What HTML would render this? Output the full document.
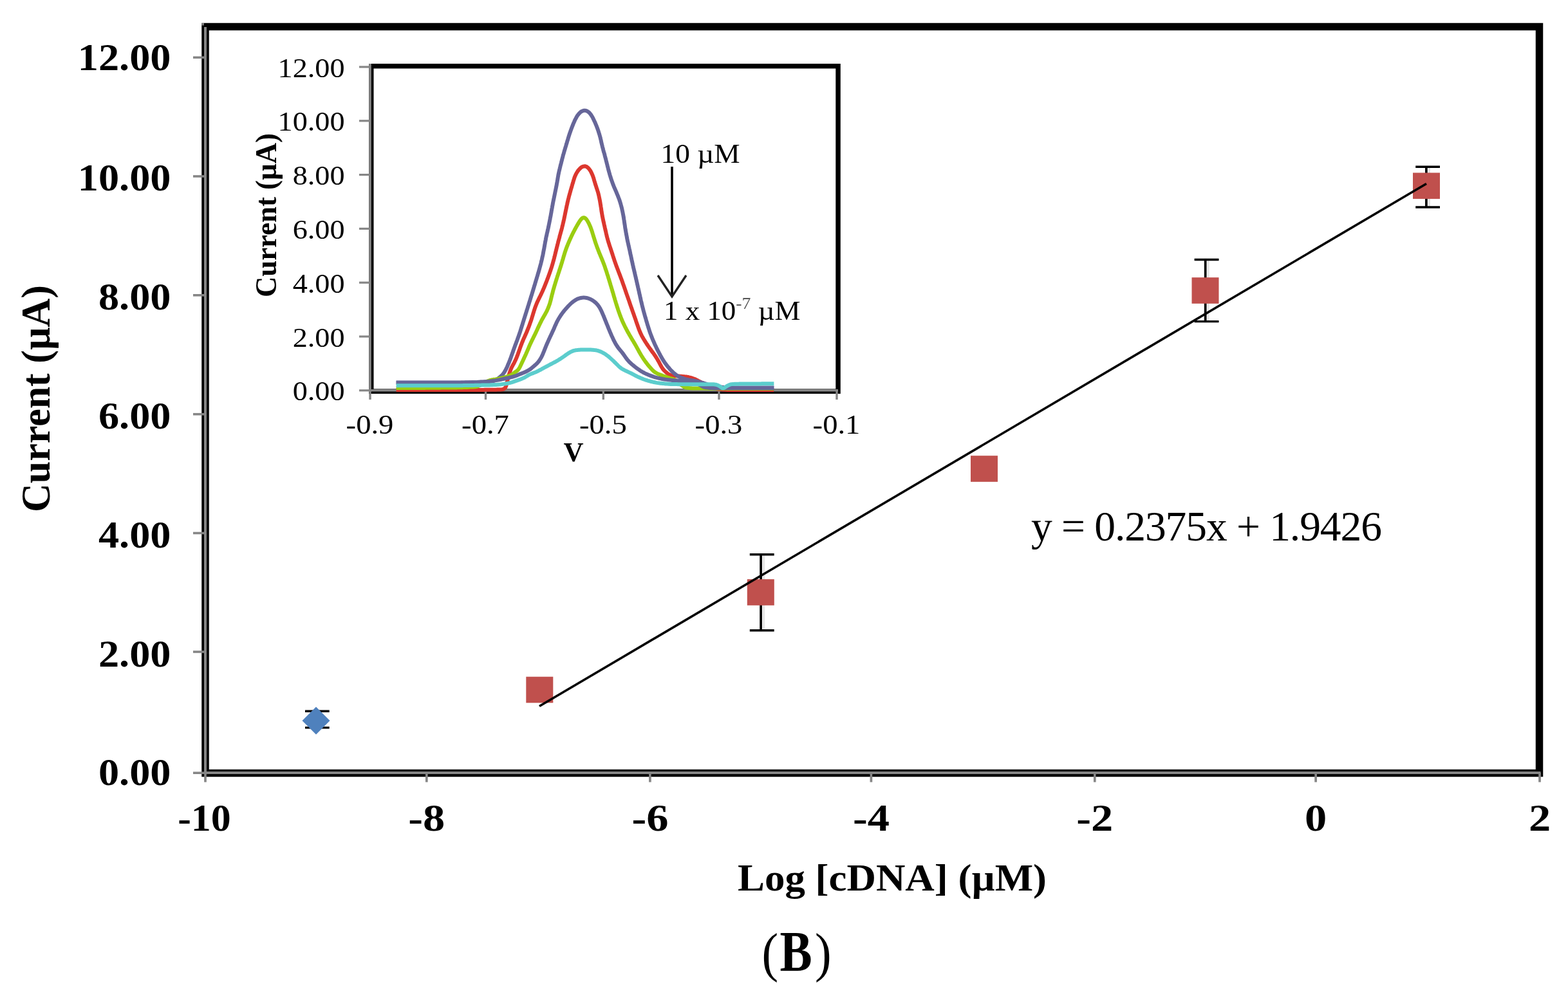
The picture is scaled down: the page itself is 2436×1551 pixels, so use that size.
<!DOCTYPE html>
<html><head><meta charset="utf-8"><title>Chart</title>
<style>html,body{margin:0;padding:0;background:#fff;overflow:hidden;width:2436px;height:1551px;}svg{display:block;}</style>
</head><body>
<svg width="2436" height="1551" viewBox="0 0 2436 1551">
<rect width="100%" height="100%" fill="#fff"/>
<rect x="319" y="41.5" width="2072.5" height="1160" fill="none" stroke="#000" stroke-width="11.5"/>
<line x1="319" y1="42" x2="319" y2="1203" stroke="#868686" stroke-width="4"/>
<rect x="313" y="36" width="4" height="3.5" fill="#7a7a7a"/>
<line x1="317" y1="1201" x2="2393.5" y2="1201" stroke="#868686" stroke-width="4"/>
<line x1="300" y1="1201.2" x2="319" y2="1201.2" stroke="#868686" stroke-width="3.6"/>
<line x1="300" y1="1013.0" x2="319" y2="1013.0" stroke="#868686" stroke-width="3.6"/>
<line x1="300" y1="828.5" x2="319" y2="828.5" stroke="#868686" stroke-width="3.6"/>
<line x1="300" y1="643.7" x2="319" y2="643.7" stroke="#868686" stroke-width="3.6"/>
<line x1="300" y1="458.8" x2="319" y2="458.8" stroke="#868686" stroke-width="3.6"/>
<line x1="300" y1="274.0" x2="319" y2="274.0" stroke="#868686" stroke-width="3.6"/>
<line x1="300" y1="89.3" x2="319" y2="89.3" stroke="#868686" stroke-width="3.6"/>
<line x1="319.0" y1="1201" x2="319.0" y2="1215.5" stroke="#868686" stroke-width="3.7"/>
<line x1="662.8" y1="1201" x2="662.8" y2="1215.5" stroke="#868686" stroke-width="3.7"/>
<line x1="1009.9" y1="1201" x2="1009.9" y2="1215.5" stroke="#868686" stroke-width="3.7"/>
<line x1="1353.4" y1="1201" x2="1353.4" y2="1215.5" stroke="#868686" stroke-width="3.7"/>
<line x1="1700.8" y1="1201" x2="1700.8" y2="1215.5" stroke="#868686" stroke-width="3.7"/>
<line x1="2044.1" y1="1201" x2="2044.1" y2="1215.5" stroke="#868686" stroke-width="3.7"/>
<line x1="2392.0" y1="1201" x2="2392.0" y2="1215.5" stroke="#868686" stroke-width="3.7"/>
<text transform="translate(265.5,1219.5) scale(1.09,1)" font-family="Liberation Serif, Times New Roman, serif" font-weight="bold" font-size="59" text-anchor="end">0.00</text>
<text transform="translate(265.5,1036.0) scale(1.09,1)" font-family="Liberation Serif, Times New Roman, serif" font-weight="bold" font-size="59" text-anchor="end">2.00</text>
<text transform="translate(265.5,851.0) scale(1.09,1)" font-family="Liberation Serif, Times New Roman, serif" font-weight="bold" font-size="59" text-anchor="end">4.00</text>
<text transform="translate(265.5,666.2) scale(1.09,1)" font-family="Liberation Serif, Times New Roman, serif" font-weight="bold" font-size="59" text-anchor="end">6.00</text>
<text transform="translate(265.5,481.2) scale(1.09,1)" font-family="Liberation Serif, Times New Roman, serif" font-weight="bold" font-size="59" text-anchor="end">8.00</text>
<text transform="translate(265.5,296.4) scale(1.09,1)" font-family="Liberation Serif, Times New Roman, serif" font-weight="bold" font-size="59" text-anchor="end">10.00</text>
<text transform="translate(265.5,108.6) scale(1.09,1)" font-family="Liberation Serif, Times New Roman, serif" font-weight="bold" font-size="59" text-anchor="end">12.00</text>
<text transform="translate(317.5,1290.5) scale(1.05,1)" font-family="Liberation Serif, Times New Roman, serif" font-weight="bold" font-size="59" text-anchor="middle">-10</text>
<text transform="translate(662.8,1290.5) scale(1.16,1)" font-family="Liberation Serif, Times New Roman, serif" font-weight="bold" font-size="59" text-anchor="middle">-8</text>
<text transform="translate(1009.9,1290.5) scale(1.16,1)" font-family="Liberation Serif, Times New Roman, serif" font-weight="bold" font-size="59" text-anchor="middle">-6</text>
<text transform="translate(1353.4,1290.5) scale(1.16,1)" font-family="Liberation Serif, Times New Roman, serif" font-weight="bold" font-size="59" text-anchor="middle">-4</text>
<text transform="translate(1700.8,1290.5) scale(1.16,1)" font-family="Liberation Serif, Times New Roman, serif" font-weight="bold" font-size="59" text-anchor="middle">-2</text>
<text transform="translate(2044.1,1290.5) scale(1.16,1)" font-family="Liberation Serif, Times New Roman, serif" font-weight="bold" font-size="59" text-anchor="middle">0</text>
<text transform="translate(2392.0,1290.5) scale(1.16,1)" font-family="Liberation Serif, Times New Roman, serif" font-weight="bold" font-size="59" text-anchor="middle">2</text>
<text x="1146" y="1383.5" font-family="Liberation Serif, Times New Roman, serif" font-weight="bold" font-size="60" textLength="480" lengthAdjust="spacingAndGlyphs">Log [cDNA] (µM)</text>
<text transform="translate(77,796) rotate(-90)" x="0" y="0" font-family="Liberation Serif, Times New Roman, serif" font-weight="bold" font-size="64" textLength="353" lengthAdjust="spacingAndGlyphs">Current (µA)</text>
<text transform="translate(1183.5,1508.5) scale(0.9,1)" font-family="Liberation Serif, Times New Roman, serif" font-size="85.5">(</text>
<text transform="translate(1211.6,1507.6) scale(0.855,1)" font-family="Liberation Serif, Times New Roman, serif" font-size="88" font-weight="bold">B</text>
<text transform="translate(1265.9,1508.5) scale(0.9,1)" font-family="Liberation Serif, Times New Roman, serif" font-size="85.5">)</text>
<text x="1602" y="840" font-family="Liberation Serif, Times New Roman, serif" font-size="65.5" textLength="545" lengthAdjust="spacing">y = 0.2375x + 1.9426</text>
<line x1="497.0" y1="1105.3" x2="497.0" y2="1130.9" stroke="#e4e4e4" stroke-width="3"/>
<line x1="492.5" y1="1105.3" x2="492.5" y2="1130.9" stroke="#000" stroke-width="3.7"/>
<line x1="474.0" y1="1105.3" x2="511.7" y2="1105.3" stroke="#000" stroke-width="3.4"/>
<line x1="474.0" y1="1130.9" x2="511.7" y2="1130.9" stroke="#000" stroke-width="3.4"/>
<line x1="1186.6" y1="861.8" x2="1186.6" y2="979.7" stroke="#e4e4e4" stroke-width="3"/>
<line x1="1182.1" y1="861.8" x2="1182.1" y2="979.7" stroke="#000" stroke-width="3.7"/>
<line x1="1164.8" y1="861.8" x2="1202.7" y2="861.8" stroke="#000" stroke-width="3.4"/>
<line x1="1164.8" y1="979.7" x2="1202.7" y2="979.7" stroke="#000" stroke-width="3.4"/>
<line x1="1877.2" y1="403.5" x2="1877.2" y2="499.6" stroke="#e4e4e4" stroke-width="3"/>
<line x1="1872.7" y1="403.5" x2="1872.7" y2="499.6" stroke="#000" stroke-width="3.7"/>
<line x1="1855.6" y1="403.5" x2="1893.5" y2="403.5" stroke="#000" stroke-width="3.4"/>
<line x1="1855.6" y1="499.6" x2="1893.5" y2="499.6" stroke="#000" stroke-width="3.4"/>
<line x1="2220.4" y1="259.2" x2="2220.4" y2="322.0" stroke="#e4e4e4" stroke-width="3"/>
<line x1="2215.9" y1="259.2" x2="2215.9" y2="322.0" stroke="#000" stroke-width="3.7"/>
<line x1="2199.2" y1="259.2" x2="2237.0" y2="259.2" stroke="#000" stroke-width="3.4"/>
<line x1="2199.2" y1="322.0" x2="2237.0" y2="322.0" stroke="#000" stroke-width="3.4"/>
<polygon points="491,1098.5 512.5,1120 491,1141.5 469.5,1120" fill="#4F81BD"/>
<rect x="817.3" y="1051.7" width="42" height="40.6" fill="#C0504D"/>
<rect x="1160.8" y="900.2" width="42" height="40.6" fill="#C0504D"/>
<rect x="1508.0" y="708.2" width="42" height="40.6" fill="#C0504D"/>
<rect x="1851.5" y="431.2" width="42" height="40.6" fill="#C0504D"/>
<rect x="2195.0" y="268.5" width="42" height="40.6" fill="#C0504D"/>
<line x1="838" y1="1097.5" x2="2216" y2="285.5" stroke="#000" stroke-width="3.6"/>
<rect x="576.75" y="102.75" width="725.3" height="505.4" fill="#fff" stroke="#000" stroke-width="7.5"/>
<line x1="575" y1="99" x2="575" y2="609" stroke="#868686" stroke-width="3.6"/>
<line x1="573" y1="606.8" x2="1302" y2="606.8" stroke="#868686" stroke-width="3.6"/>
<line x1="558" y1="606.8" x2="575" y2="606.8" stroke="#868686" stroke-width="3.2"/>
<line x1="558" y1="523.0" x2="575" y2="523.0" stroke="#868686" stroke-width="3.2"/>
<line x1="558" y1="439.2" x2="575" y2="439.2" stroke="#868686" stroke-width="3.2"/>
<line x1="558" y1="355.4" x2="575" y2="355.4" stroke="#868686" stroke-width="3.2"/>
<line x1="558" y1="271.6" x2="575" y2="271.6" stroke="#868686" stroke-width="3.2"/>
<line x1="558" y1="187.8" x2="575" y2="187.8" stroke="#868686" stroke-width="3.2"/>
<line x1="558" y1="104.0" x2="575" y2="104.0" stroke="#868686" stroke-width="3.2"/>
<line x1="575.0" y1="606.8" x2="575.0" y2="621" stroke="#868686" stroke-width="3.4"/>
<line x1="754.5" y1="606.8" x2="754.5" y2="621" stroke="#868686" stroke-width="3.4"/>
<line x1="937.3" y1="606.8" x2="937.3" y2="621" stroke="#868686" stroke-width="3.4"/>
<line x1="1117.0" y1="606.8" x2="1117.0" y2="621" stroke="#868686" stroke-width="3.4"/>
<line x1="1300.0" y1="606.8" x2="1300.0" y2="621" stroke="#868686" stroke-width="3.4"/>
<path d="M615.6,606.0 616.6,606.0 618.0,606.0 619.5,606.0 621.0,606.0 622.5,606.0 624.0,606.0 625.5,606.0 627.0,606.0 628.5,606.0 630.0,606.0 631.5,606.0 633.0,606.0 634.5,606.0 636.0,606.0 637.5,606.0 639.0,606.0 640.5,606.0 642.0,606.0 643.5,606.0 645.0,606.0 646.5,606.0 648.0,606.0 649.5,606.0 651.0,606.0 652.5,606.0 654.0,606.0 655.5,606.0 657.0,606.0 658.5,606.0 660.0,606.0 661.5,606.0 663.0,606.0 664.5,606.0 666.0,606.0 667.5,606.0 669.0,606.0 670.5,606.0 672.0,606.0 673.5,606.0 675.0,606.0 676.5,606.0 678.0,606.0 679.5,606.0 681.0,606.0 682.5,606.0 684.0,606.0 685.5,606.0 687.0,606.0 688.5,606.0 690.0,606.0 691.5,606.0 693.0,606.0 694.5,606.0 696.0,606.0 697.5,606.0 699.0,606.0 700.5,606.0 702.0,606.0 703.5,606.0 705.0,606.0 706.5,606.0 708.0,606.0 709.5,606.0 711.0,606.0 712.5,606.0 714.0,606.0 715.5,606.0 717.0,606.0 718.5,606.0 720.0,606.0 721.5,606.0 723.0,606.0 724.5,606.0 726.0,606.0 727.5,606.0 729.0,606.0 730.5,605.9 732.0,605.9 733.5,605.9 735.0,605.9 736.5,605.9 738.0,605.9 739.5,605.9 741.0,605.9 742.5,605.9 744.0,605.9 745.5,605.9 747.0,605.9 748.5,605.9 750.0,605.9 751.5,605.9 753.0,605.8 754.5,605.8 756.0,605.8 757.5,605.8 759.0,605.8 760.5,605.8 762.0,605.8 763.5,605.8 765.0,605.8 766.5,605.7 768.0,605.7 769.5,605.7 771.0,605.7 772.5,605.6 774.0,605.6 775.5,605.5 777.0,605.4 778.5,605.4 780.0,605.2 781.4,604.9 782.8,604.4 784.0,603.6 785.0,602.5 785.7,601.3 786.2,599.9 786.6,598.4 787.0,597.0 787.4,595.5 787.7,594.1 788.1,592.6 788.5,591.2 788.8,589.7 789.2,588.2 789.5,586.8 789.9,585.3 790.3,583.9 790.7,582.4 791.1,581.0 791.6,579.6 792.1,578.2 792.6,576.7 793.1,575.3 793.6,573.9 794.2,572.6 794.8,571.2 795.5,569.9 796.2,568.5 796.9,567.2 797.7,565.9 798.4,564.6 799.1,563.3 799.7,561.9 800.4,560.6 801.0,559.2 801.6,557.9 802.2,556.5 802.8,555.1 803.3,553.7 803.9,552.3 804.4,550.9 804.9,549.5 805.4,548.1 805.9,546.7 806.4,545.3 806.9,543.9 807.4,542.4 807.9,541.0 808.4,539.6 808.9,538.2 809.4,536.8 810.0,535.4 810.5,534.0 811.0,532.6 811.6,531.2 812.2,529.8 812.7,528.4 813.3,527.1 813.9,525.7 814.6,524.3 815.2,522.9 815.8,521.6 816.4,520.2 817.0,518.8 817.6,517.5 818.2,516.1 818.8,514.7 819.3,513.3 819.9,511.9 820.5,510.5 821.0,509.1 821.6,507.7 822.1,506.3 822.6,504.9 823.1,503.5 823.6,502.1 824.1,500.7 824.6,499.3 825.1,497.9 825.6,496.4 826.0,495.0 826.5,493.6 826.9,492.1 827.3,490.7 827.8,489.3 828.2,487.8 828.6,486.4 829.1,485.0 829.5,483.5 830.0,482.1 830.4,480.7 830.9,479.3 831.4,477.8 831.9,476.4 832.4,475.0 833.0,473.6 833.5,472.3 834.1,470.9 834.7,469.5 835.3,468.1 836.0,466.8 836.6,465.4 837.3,464.1 837.9,462.7 838.6,461.4 839.3,460.0 839.9,458.7 840.6,457.3 841.2,456.0 841.8,454.6 842.5,453.3 843.1,451.9 843.7,450.5 844.3,449.1 844.9,447.8 845.5,446.4 846.0,445.0 846.6,443.6 847.2,442.2 847.7,440.8 848.3,439.4 848.8,438.0 849.4,436.6 849.9,435.2 850.4,433.8 851.0,432.4 851.5,431.0 852.0,429.6 852.5,428.2 853.0,426.8 853.5,425.4 854.0,424.0 854.5,422.6 855.0,421.1 855.5,419.7 855.9,418.3 856.4,416.9 856.9,415.4 857.3,414.0 857.8,412.6 858.2,411.1 858.6,409.7 859.0,408.3 859.4,406.8 859.8,405.4 860.2,403.9 860.6,402.5 861.0,401.0 861.3,399.6 861.7,398.1 862.1,396.7 862.4,395.2 862.8,393.7 863.1,392.3 863.5,390.8 863.9,389.4 864.2,387.9 864.6,386.5 864.9,385.0 865.3,383.5 865.7,382.1 866.0,380.6 866.4,379.2 866.8,377.7 867.1,376.3 867.5,374.8 867.9,373.4 868.3,371.9 868.7,370.5 869.1,369.0 869.4,367.6 869.8,366.1 870.2,364.7 870.6,363.2 871.0,361.8 871.4,360.3 871.8,358.9 872.2,357.4 872.6,356.0 873.0,354.5 873.3,353.1 873.7,351.6 874.0,350.2 874.4,348.7 874.7,347.3 875.1,345.8 875.4,344.3 875.7,342.9 876.1,341.4 876.4,339.9 876.7,338.5 877.0,337.0 877.3,335.5 877.6,334.1 877.9,332.6 878.2,331.1 878.5,329.7 878.8,328.2 879.1,326.7 879.4,325.3 879.7,323.8 880.0,322.3 880.3,320.8 880.6,319.4 881.0,317.9 881.3,316.4 881.6,315.0 881.9,313.5 882.3,312.1 882.6,310.6 883.0,309.1 883.4,307.7 883.7,306.2 884.1,304.8 884.5,303.3 884.9,301.9 885.3,300.4 885.7,299.0 886.1,297.6 886.5,296.1 886.9,294.7 887.3,293.2 887.8,291.8 888.2,290.4 888.6,288.9 889.0,287.5 889.4,286.0 889.9,284.6 890.3,283.2 890.7,281.7 891.1,280.3 891.6,278.9 892.0,277.4 892.5,276.0 893.0,274.6 893.6,273.3 894.2,271.9 894.8,270.6 895.5,269.3 896.3,268.0 897.1,266.7 897.9,265.5 898.8,264.4 899.8,263.2 900.7,262.2 901.8,261.2 902.8,260.3 903.9,259.6 905.1,259.0 906.2,258.6 907.4,258.4 908.6,258.3 909.7,258.5 910.9,258.9 912.0,259.5 913.0,260.3 914.0,261.2 914.9,262.2 915.8,263.3 916.6,264.5 917.4,265.7 918.1,267.0 918.8,268.3 919.4,269.7 920.0,271.0 920.6,272.4 921.1,273.8 921.6,275.2 922.1,276.6 922.5,278.1 922.9,279.5 923.3,280.9 923.8,282.4 924.2,283.8 924.6,285.2 925.1,286.7 925.5,288.1 926.0,289.5 926.5,290.9 926.9,292.4 927.4,293.8 927.9,295.2 928.3,296.6 928.8,298.1 929.2,299.5 929.6,300.9 929.9,302.4 930.3,303.8 930.6,305.3 930.9,306.8 931.2,308.2 931.5,309.7 931.8,311.2 932.1,312.7 932.3,314.1 932.6,315.6 932.8,317.1 933.1,318.6 933.3,320.1 933.5,321.5 933.8,323.0 934.0,324.5 934.2,326.0 934.4,327.5 934.6,329.0 934.9,330.4 935.1,331.9 935.4,333.4 935.6,334.9 935.9,336.3 936.2,337.8 936.5,339.3 936.8,340.8 937.1,342.2 937.4,343.7 937.7,345.1 938.1,346.6 938.4,348.1 938.7,349.5 939.1,351.0 939.4,352.5 939.7,353.9 940.1,355.4 940.4,356.9 940.7,358.3 941.1,359.8 941.4,361.2 941.7,362.7 942.1,364.2 942.4,365.6 942.7,367.1 943.1,368.5 943.5,370.0 943.9,371.4 944.3,372.9 944.7,374.3 945.1,375.8 945.6,377.2 946.0,378.6 946.5,380.0 946.9,381.5 947.4,382.9 947.9,384.3 948.4,385.7 948.8,387.2 949.3,388.6 949.8,390.0 950.3,391.4 950.7,392.9 951.2,394.3 951.7,395.7 952.1,397.1 952.6,398.6 953.0,400.0 953.5,401.4 954.0,402.8 954.4,404.3 954.9,405.7 955.4,407.1 955.9,408.5 956.4,409.9 956.9,411.3 957.4,412.8 957.9,414.2 958.5,415.6 959.0,417.0 959.5,418.4 960.1,419.8 960.6,421.2 961.1,422.6 961.7,424.0 962.2,425.4 962.7,426.8 963.3,428.2 963.8,429.6 964.3,431.0 964.8,432.4 965.4,433.8 965.9,435.2 966.4,436.6 966.9,438.0 967.4,439.5 967.9,440.9 968.4,442.3 968.9,443.7 969.4,445.1 969.9,446.5 970.4,447.9 970.9,449.4 971.4,450.8 971.8,452.2 972.3,453.6 972.8,455.0 973.3,456.4 973.8,457.9 974.3,459.3 974.8,460.7 975.3,462.1 975.8,463.5 976.3,464.9 976.8,466.4 977.3,467.8 977.8,469.2 978.2,470.6 978.7,472.0 979.2,473.4 979.7,474.9 980.2,476.3 980.7,477.7 981.2,479.1 981.7,480.5 982.2,481.9 982.7,483.4 983.2,484.8 983.7,486.2 984.2,487.6 984.7,489.0 985.2,490.4 985.7,491.9 986.2,493.3 986.7,494.7 987.2,496.1 987.7,497.5 988.1,498.9 988.6,500.4 989.1,501.8 989.6,503.2 990.1,504.6 990.6,506.0 991.1,507.4 991.6,508.9 992.1,510.3 992.6,511.7 993.2,513.1 993.7,514.5 994.3,515.8 994.9,517.2 995.5,518.6 996.2,519.9 996.8,521.3 997.5,522.6 998.2,523.9 999.0,525.2 999.7,526.5 1000.5,527.8 1001.3,529.1 1002.0,530.3 1002.9,531.6 1003.7,532.9 1004.5,534.1 1005.3,535.4 1006.2,536.6 1007.0,537.8 1007.9,539.1 1008.7,540.3 1009.6,541.5 1010.5,542.7 1011.4,544.0 1012.2,545.2 1013.1,546.4 1014.0,547.6 1014.9,548.8 1015.8,550.0 1016.6,551.3 1017.5,552.5 1018.3,553.7 1019.1,555.0 1019.9,556.2 1020.7,557.5 1021.5,558.8 1022.2,560.1 1023.0,561.4 1023.7,562.7 1024.4,564.0 1025.1,565.4 1025.8,566.7 1026.5,568.0 1027.2,569.3 1028.0,570.6 1028.8,571.8 1029.6,573.1 1030.5,574.3 1031.5,575.4 1032.6,576.5 1033.6,577.5 1034.8,578.5 1035.9,579.5 1037.1,580.4 1038.3,581.3 1039.6,582.0 1040.9,582.7 1042.3,583.2 1043.8,583.5 1045.3,583.7 1046.8,583.9 1048.3,584.0 1049.7,584.2 1051.2,584.3 1052.7,584.4 1054.2,584.5 1055.7,584.6 1057.2,584.7 1058.7,584.8 1060.2,584.9 1061.7,585.1 1063.2,585.2 1064.7,585.4 1066.2,585.5 1067.7,585.8 1069.1,586.0 1070.6,586.4 1072.1,586.7 1073.5,587.1 1075.0,587.5 1076.4,588.0 1077.8,588.5 1079.2,589.0 1080.6,589.6 1081.9,590.3 1083.2,591.0 1084.5,591.7 1085.9,592.4 1087.2,593.1 1088.6,593.7 1089.9,594.4 1091.3,595.0 1092.6,595.7 1094.0,596.3 1095.3,597.0 1096.7,597.6 1098.1,598.2 1099.5,598.8 1100.8,599.4 1102.2,600.0 1103.6,600.6 1105.0,601.2 1106.3,601.8 1107.7,602.3 1109.1,602.9 1110.5,603.4 1112.0,603.8 1113.4,604.2 1114.9,604.5 1116.4,604.7 1117.9,604.8 1119.3,605.0 1120.8,605.2 1122.3,605.3 1123.8,605.5 1125.3,605.6 1126.8,605.7 1128.3,605.8 1129.8,605.9 1131.3,605.9 1132.8,606.0 1134.3,606.0 1135.8,606.0 1137.3,606.0 1138.8,606.0 1140.3,606.0 1141.8,606.0 1143.3,606.0 1144.8,606.0 1146.3,606.0 1147.8,606.0 1149.3,606.0 1150.8,606.0 1152.3,606.0 1153.8,606.0 1155.3,606.0 1156.8,606.0 1158.3,606.0 1159.8,606.0 1161.3,606.0 1162.8,606.0 1164.3,606.0 1165.8,606.0 1167.3,606.0 1168.8,606.0 1170.3,606.0 1171.8,606.0 1173.3,606.0 1174.8,606.0 1176.3,606.0 1177.8,606.0 1179.3,606.0 1180.8,606.0 1182.3,606.0 1183.8,606.0 1185.3,606.0 1186.8,606.0 1188.3,606.0 1189.8,606.0 1191.3,606.0 1192.8,606.0 1194.3,606.0 1195.8,606.0 1197.3,606.0 1198.8,606.0 1200.3,606.0 1201.6,606.0 1202.2,606.0" fill="none" stroke="#DC372E" stroke-width="6" stroke-linejoin="round" stroke-linecap="butt"/>
<path d="M615.6,594.5 616.6,594.5 618.0,594.5 619.5,594.5 621.0,594.5 622.5,594.5 624.0,594.5 625.5,594.5 627.0,594.5 628.5,594.5 630.0,594.5 631.5,594.5 633.0,594.5 634.5,594.5 636.0,594.5 637.5,594.5 639.0,594.5 640.5,594.5 642.0,594.5 643.5,594.5 645.0,594.5 646.5,594.5 648.0,594.5 649.5,594.5 651.0,594.5 652.5,594.5 654.0,594.5 655.5,594.5 657.0,594.5 658.5,594.5 660.0,594.5 661.5,594.5 663.0,594.5 664.5,594.5 666.0,594.5 667.5,594.5 669.0,594.5 670.5,594.5 672.0,594.5 673.5,594.5 675.0,594.5 676.5,594.5 678.0,594.5 679.5,594.5 681.0,594.5 682.5,594.5 684.0,594.5 685.5,594.5 687.0,594.5 688.5,594.5 690.0,594.5 691.5,594.5 693.0,594.5 694.5,594.5 696.0,594.5 697.5,594.5 699.0,594.5 700.5,594.5 702.0,594.5 703.5,594.5 705.0,594.5 706.5,594.5 708.0,594.5 709.5,594.5 711.0,594.5 712.5,594.5 714.0,594.4 715.5,594.4 717.0,594.4 718.5,594.4 720.0,594.4 721.5,594.4 723.0,594.3 724.5,594.3 726.0,594.3 727.5,594.3 729.0,594.2 730.5,594.2 732.0,594.2 733.5,594.1 735.0,594.1 736.5,594.1 738.0,594.0 739.5,594.0 741.0,594.0 742.5,593.9 744.0,593.9 745.5,593.8 747.0,593.8 748.5,593.7 750.0,593.7 751.5,593.6 753.0,593.6 754.5,593.5 756.0,593.4 757.5,593.3 759.0,593.2 760.5,593.0 761.9,592.8 763.4,592.5 764.9,592.2 766.4,591.9 767.8,591.5 769.2,591.0 770.5,590.3 771.8,589.6 773.1,588.7 774.3,587.8 775.5,586.9 776.6,586.0 777.8,585.0 778.9,584.0 779.9,583.0 781.0,581.9 781.9,580.7 782.8,579.5 783.6,578.2 784.4,577.0 785.1,575.6 785.8,574.3 786.5,573.0 787.1,571.6 787.8,570.3 788.4,568.9 789.0,567.5 789.5,566.1 790.1,564.7 790.7,563.4 791.2,562.0 791.8,560.6 792.3,559.2 792.9,557.8 793.4,556.4 793.9,554.9 794.4,553.5 794.9,552.1 795.4,550.7 795.9,549.3 796.4,547.9 796.9,546.5 797.4,545.0 797.9,543.6 798.4,542.2 798.9,540.8 799.4,539.4 799.9,538.0 800.4,536.6 801.0,535.2 801.5,533.8 802.0,532.4 802.5,531.0 803.1,529.6 803.6,528.2 804.1,526.8 804.6,525.3 805.1,523.9 805.7,522.5 806.1,521.1 806.6,519.7 807.1,518.3 807.6,516.8 808.1,515.4 808.5,514.0 809.0,512.6 809.4,511.1 809.9,509.7 810.3,508.3 810.8,506.8 811.2,505.4 811.7,504.0 812.1,502.5 812.5,501.1 813.0,499.7 813.4,498.2 813.9,496.8 814.3,495.4 814.8,494.0 815.2,492.5 815.7,491.1 816.1,489.7 816.6,488.2 817.0,486.8 817.5,485.4 817.9,483.9 818.4,482.5 818.8,481.1 819.3,479.6 819.7,478.2 820.2,476.8 820.6,475.4 821.1,473.9 821.5,472.5 822.0,471.1 822.4,469.6 822.9,468.2 823.3,466.8 823.8,465.3 824.2,463.9 824.6,462.5 825.1,461.0 825.5,459.6 826.0,458.2 826.4,456.7 826.9,455.3 827.3,453.9 827.7,452.4 828.2,451.0 828.6,449.6 829.0,448.1 829.5,446.7 829.9,445.2 830.3,443.8 830.8,442.4 831.2,440.9 831.6,439.5 832.1,438.1 832.5,436.6 832.9,435.2 833.4,433.8 833.8,432.3 834.2,430.9 834.7,429.4 835.1,428.0 835.5,426.6 835.9,425.1 836.4,423.7 836.8,422.3 837.2,420.8 837.6,419.4 838.0,417.9 838.4,416.5 838.8,415.0 839.2,413.6 839.6,412.1 840.0,410.7 840.4,409.2 840.7,407.8 841.1,406.3 841.4,404.9 841.8,403.4 842.1,401.9 842.4,400.5 842.7,399.0 843.1,397.5 843.4,396.1 843.7,394.6 844.0,393.1 844.2,391.7 844.5,390.2 844.8,388.7 845.1,387.2 845.4,385.8 845.6,384.3 845.9,382.8 846.1,381.3 846.4,379.9 846.7,378.4 846.9,376.9 847.2,375.4 847.5,374.0 847.8,372.5 848.0,371.0 848.3,369.5 848.6,368.1 849.0,366.6 849.3,365.1 849.6,363.7 849.9,362.2 850.3,360.8 850.6,359.3 850.9,357.8 851.2,356.4 851.6,354.9 851.9,353.4 852.2,352.0 852.5,350.5 852.8,349.0 853.1,347.6 853.4,346.1 853.7,344.6 854.0,343.1 854.3,341.7 854.6,340.2 854.8,338.7 855.1,337.3 855.4,335.8 855.7,334.3 855.9,332.8 856.2,331.4 856.5,329.9 856.7,328.4 857.0,326.9 857.2,325.4 857.5,324.0 857.8,322.5 858.0,321.0 858.3,319.5 858.6,318.1 858.8,316.6 859.1,315.1 859.4,313.6 859.7,312.2 860.0,310.7 860.3,309.2 860.6,307.8 860.9,306.3 861.2,304.8 861.5,303.3 861.8,301.9 862.1,300.4 862.4,298.9 862.7,297.5 863.0,296.0 863.3,294.5 863.6,293.1 863.9,291.6 864.2,290.1 864.5,288.7 864.8,287.2 865.0,285.7 865.3,284.2 865.6,282.8 865.8,281.3 866.1,279.8 866.3,278.3 866.6,276.8 866.8,275.4 867.1,273.9 867.3,272.4 867.6,270.9 867.9,269.5 868.2,268.0 868.5,266.5 868.9,265.1 869.2,263.6 869.6,262.2 869.9,260.7 870.3,259.2 870.6,257.8 871.0,256.3 871.4,254.9 871.8,253.4 872.1,252.0 872.5,250.5 872.9,249.1 873.2,247.6 873.6,246.2 874.0,244.7 874.4,243.3 874.7,241.8 875.1,240.4 875.6,238.9 876.0,237.5 876.4,236.0 876.8,234.6 877.2,233.2 877.7,231.7 878.1,230.3 878.5,228.9 879.0,227.4 879.4,226.0 879.8,224.5 880.3,223.1 880.7,221.7 881.1,220.2 881.5,218.8 882.0,217.4 882.4,215.9 882.8,214.5 883.3,213.1 883.7,211.6 884.2,210.2 884.6,208.8 885.1,207.3 885.6,205.9 886.1,204.5 886.6,203.1 887.1,201.7 887.6,200.3 888.1,198.9 888.7,197.5 889.2,196.1 889.8,194.7 890.3,193.3 890.9,191.9 891.5,190.5 892.1,189.2 892.7,187.8 893.3,186.4 894.0,185.1 894.7,183.8 895.4,182.5 896.1,181.2 896.9,179.9 897.8,178.7 898.7,177.6 899.6,176.5 900.6,175.4 901.7,174.5 902.7,173.6 903.9,172.9 905.1,172.4 906.3,172.0 907.5,171.8 908.7,171.7 910.0,171.9 911.2,172.3 912.3,172.8 913.5,173.5 914.5,174.3 915.6,175.3 916.5,176.3 917.4,177.4 918.3,178.6 919.1,179.9 919.9,181.1 920.6,182.4 921.3,183.7 921.9,185.1 922.6,186.4 923.2,187.8 923.9,189.1 924.5,190.5 925.1,191.9 925.6,193.3 926.2,194.6 926.8,196.0 927.3,197.4 927.8,198.8 928.4,200.2 928.9,201.7 929.4,203.1 929.8,204.5 930.3,205.9 930.7,207.4 931.2,208.8 931.6,210.2 932.0,211.7 932.4,213.1 932.8,214.6 933.1,216.0 933.5,217.5 933.8,218.9 934.1,220.4 934.4,221.9 934.8,223.3 935.1,224.8 935.5,226.2 935.8,227.7 936.2,229.2 936.6,230.6 937.0,232.1 937.3,233.5 937.7,234.9 938.1,236.4 938.6,237.8 939.0,239.3 939.4,240.7 939.7,242.2 940.1,243.6 940.5,245.1 940.9,246.5 941.3,248.0 941.6,249.4 942.0,250.9 942.4,252.3 942.7,253.8 943.1,255.2 943.5,256.7 943.8,258.2 944.2,259.6 944.6,261.1 944.9,262.5 945.3,264.0 945.7,265.4 946.1,266.9 946.5,268.3 946.9,269.8 947.3,271.2 947.7,272.6 948.2,274.1 948.6,275.5 949.1,276.9 949.5,278.4 950.0,279.8 950.5,281.2 951.0,282.6 951.5,284.0 952.0,285.4 952.5,286.8 953.1,288.2 953.6,289.6 954.2,291.0 954.8,292.4 955.4,293.8 956.0,295.1 956.6,296.5 957.2,297.9 957.8,299.3 958.3,300.7 958.9,302.0 959.5,303.4 960.0,304.8 960.6,306.2 961.1,307.6 961.7,309.0 962.2,310.4 962.6,311.8 963.1,313.3 963.6,314.7 964.0,316.1 964.4,317.6 964.8,319.0 965.2,320.5 965.6,321.9 966.0,323.4 966.3,324.8 966.6,326.3 966.9,327.7 967.2,329.2 967.5,330.7 967.8,332.2 968.1,333.6 968.4,335.1 968.6,336.6 968.9,338.1 969.1,339.5 969.3,341.0 969.6,342.5 969.8,344.0 970.0,345.5 970.2,347.0 970.4,348.4 970.7,349.9 970.9,351.4 971.1,352.9 971.3,354.4 971.6,355.9 971.8,357.3 972.1,358.8 972.3,360.3 972.6,361.8 972.8,363.2 973.1,364.7 973.4,366.2 973.7,367.7 973.9,369.1 974.2,370.6 974.5,372.1 974.8,373.6 975.1,375.0 975.4,376.5 975.8,378.0 976.1,379.4 976.4,380.9 976.7,382.3 977.1,383.8 977.4,385.3 977.7,386.7 978.1,388.2 978.4,389.7 978.7,391.1 979.0,392.6 979.3,394.1 979.6,395.5 980.0,397.0 980.3,398.5 980.6,399.9 980.9,401.4 981.2,402.9 981.5,404.3 981.8,405.8 982.2,407.3 982.5,408.7 982.8,410.2 983.1,411.7 983.5,413.1 983.8,414.6 984.1,416.0 984.5,417.5 984.8,419.0 985.2,420.4 985.5,421.9 985.9,423.3 986.2,424.8 986.5,426.3 986.9,427.7 987.2,429.2 987.6,430.6 987.9,432.1 988.2,433.6 988.6,435.0 988.9,436.5 989.2,438.0 989.6,439.4 989.9,440.9 990.2,442.3 990.6,443.8 990.9,445.3 991.2,446.7 991.6,448.2 991.9,449.7 992.2,451.1 992.6,452.6 992.9,454.1 993.2,455.5 993.5,457.0 993.9,458.4 994.2,459.9 994.5,461.4 994.8,462.8 995.2,464.3 995.5,465.8 995.8,467.2 996.2,468.7 996.5,470.1 996.9,471.6 997.2,473.1 997.6,474.5 997.9,476.0 998.3,477.4 998.7,478.9 999.1,480.3 999.4,481.8 999.8,483.2 1000.2,484.7 1000.6,486.1 1001.0,487.6 1001.4,489.0 1001.8,490.5 1002.2,491.9 1002.6,493.3 1003.1,494.8 1003.5,496.2 1003.9,497.7 1004.3,499.1 1004.7,500.5 1005.2,502.0 1005.6,503.4 1006.0,504.9 1006.5,506.3 1006.9,507.7 1007.4,509.2 1007.8,510.6 1008.3,512.0 1008.8,513.4 1009.2,514.9 1009.7,516.3 1010.2,517.7 1010.7,519.1 1011.3,520.5 1011.8,521.9 1012.3,523.3 1012.9,524.7 1013.4,526.1 1014.0,527.5 1014.6,528.9 1015.2,530.2 1015.8,531.6 1016.4,533.0 1017.0,534.4 1017.6,535.7 1018.2,537.1 1018.9,538.4 1019.5,539.8 1020.2,541.1 1020.8,542.5 1021.5,543.8 1022.2,545.2 1022.9,546.5 1023.6,547.8 1024.3,549.2 1025.0,550.5 1025.7,551.8 1026.4,553.1 1027.1,554.4 1027.9,555.7 1028.6,557.0 1029.4,558.3 1030.2,559.6 1031.0,560.8 1031.8,562.1 1032.6,563.3 1033.5,564.6 1034.4,565.8 1035.3,567.0 1036.2,568.2 1037.1,569.3 1038.1,570.5 1039.1,571.6 1040.0,572.8 1041.0,573.9 1042.0,575.0 1043.1,576.1 1044.1,577.1 1045.2,578.2 1046.3,579.2 1047.5,580.2 1048.6,581.1 1049.8,582.1 1051.0,583.0 1052.2,583.8 1053.5,584.6 1054.8,585.3 1056.1,586.0 1057.5,586.6 1058.9,587.2 1060.3,587.7 1061.7,588.2 1063.1,588.7 1064.6,589.1 1066.0,589.5 1067.5,589.8 1069.0,590.1 1070.4,590.4 1071.9,590.6 1073.4,590.9 1074.9,591.1 1076.4,591.3 1077.8,591.6 1079.3,591.9 1080.8,592.2 1082.2,592.5 1083.7,592.9 1085.1,593.2 1086.6,593.6 1088.0,594.0 1089.5,594.4 1090.9,594.8 1092.4,595.2 1093.8,595.7 1095.2,596.1 1096.7,596.5 1098.1,597.0 1099.5,597.5 1100.9,598.0 1102.3,598.5 1103.8,599.0 1105.2,599.4 1106.6,599.8 1108.1,600.2 1109.6,600.4 1111.1,600.6 1112.6,600.8 1114.0,601.0 1115.5,601.1 1117.0,601.3 1118.5,601.4 1120.0,601.5 1121.5,601.7 1123.0,601.8 1124.5,601.9 1126.0,602.0 1127.5,602.1 1129.0,602.2 1130.5,602.3 1132.0,602.3 1133.5,602.4 1135.0,602.4 1136.5,602.5 1138.0,602.5 1139.5,602.5 1141.0,602.5 1142.5,602.5 1144.0,602.5 1145.5,602.5 1147.0,602.5 1148.5,602.5 1150.0,602.5 1151.5,602.5 1153.0,602.5 1154.5,602.5 1156.0,602.5 1157.5,602.5 1159.0,602.5 1160.5,602.5 1162.0,602.5 1163.5,602.5 1165.0,602.5 1166.5,602.5 1168.0,602.5 1169.5,602.5 1171.0,602.5 1172.5,602.5 1174.0,602.5 1175.5,602.5 1177.0,602.5 1178.5,602.5 1180.0,602.5 1181.5,602.5 1183.0,602.5 1184.5,602.5 1186.0,602.5 1187.5,602.5 1189.0,602.5 1190.5,602.5 1192.0,602.5 1193.5,602.5 1195.0,602.5 1196.5,602.5 1198.0,602.5 1199.5,602.5 1200.9,602.5 1202.1,602.5 1202.4,602.5" fill="none" stroke="#666699" stroke-width="6" stroke-linejoin="round" stroke-linecap="butt"/>
<path d="M615.6,603.0 616.6,603.0 618.0,603.0 619.5,603.0 621.0,603.0 622.5,603.0 624.0,603.0 625.5,603.0 627.0,603.0 628.5,603.0 630.0,603.0 631.5,603.0 633.0,603.0 634.5,603.0 636.0,603.0 637.5,603.0 639.0,603.0 640.5,603.0 642.0,602.9 643.5,602.9 645.0,602.9 646.5,602.9 648.0,602.9 649.5,602.9 651.0,602.9 652.5,602.9 654.0,602.9 655.5,602.9 657.0,602.9 658.5,602.9 660.0,602.9 661.5,602.8 663.0,602.8 664.5,602.8 666.0,602.8 667.5,602.8 669.0,602.8 670.5,602.8 672.0,602.8 673.5,602.8 675.0,602.7 676.5,602.7 678.0,602.7 679.5,602.7 681.0,602.7 682.5,602.7 684.0,602.7 685.5,602.6 687.0,602.6 688.5,602.6 690.0,602.6 691.5,602.6 693.0,602.6 694.5,602.6 696.0,602.5 697.5,602.5 699.0,602.5 700.5,602.5 702.0,602.5 703.5,602.5 705.0,602.4 706.5,602.4 708.0,602.4 709.5,602.4 711.0,602.3 712.5,602.3 714.0,602.3 715.5,602.2 717.0,602.2 718.5,602.2 720.0,602.1 721.5,602.1 723.0,602.0 724.5,601.9 726.0,601.9 727.5,601.8 729.0,601.7 730.5,601.6 732.0,601.6 733.5,601.5 735.0,601.4 736.5,601.3 738.0,601.2 739.5,601.0 740.9,600.8 742.4,600.3 743.7,599.8 745.1,599.1 746.4,598.3 747.6,597.5 748.9,596.8 750.2,596.0 751.5,595.3 752.8,594.6 754.2,593.9 755.5,593.3 756.9,592.6 758.3,592.0 759.7,591.5 761.1,591.0 762.5,590.7 764.0,590.3 765.5,590.1 767.0,589.8 768.4,589.6 769.9,589.4 771.4,589.1 772.9,588.9 774.4,588.6 775.8,588.3 777.3,588.0 778.8,587.7 780.2,587.3 781.7,587.0 783.1,586.6 784.6,586.2 786.0,585.8 787.5,585.4 788.9,584.9 790.3,584.4 791.7,583.9 793.1,583.4 794.4,582.7 795.7,581.9 796.9,581.1 798.1,580.1 799.2,579.1 800.4,578.2 801.6,577.4 802.9,576.5 804.0,575.6 805.1,574.5 806.0,573.3 806.7,572.0 807.5,570.7 808.1,569.4 808.8,568.1 809.4,566.7 810.1,565.4 810.7,564.0 811.3,562.6 812.0,561.3 812.6,559.9 813.2,558.6 813.9,557.2 814.5,555.8 815.1,554.5 815.8,553.1 816.4,551.7 817.0,550.4 817.6,549.0 818.2,547.6 818.8,546.3 819.4,544.9 820.0,543.5 820.6,542.1 821.2,540.7 821.7,539.4 822.3,538.0 822.9,536.6 823.5,535.2 824.2,533.9 824.8,532.5 825.4,531.2 826.1,529.8 826.7,528.5 827.4,527.1 828.1,525.8 828.7,524.4 829.4,523.1 830.1,521.7 830.7,520.4 831.4,519.1 832.0,517.7 832.7,516.3 833.3,515.0 833.9,513.6 834.6,512.3 835.2,510.9 835.8,509.5 836.5,508.2 837.1,506.8 837.7,505.5 838.4,504.1 839.0,502.8 839.7,501.4 840.4,500.1 841.0,498.7 841.7,497.4 842.4,496.1 843.2,494.8 843.9,493.5 844.6,492.2 845.4,490.9 846.1,489.6 846.9,488.3 847.6,486.9 848.3,485.6 849.0,484.3 849.7,483.0 850.3,481.6 850.9,480.3 851.5,478.9 852.1,477.5 852.6,476.1 853.1,474.7 853.6,473.3 854.1,471.9 854.5,470.4 854.9,469.0 855.3,467.5 855.7,466.1 856.0,464.6 856.4,463.2 856.7,461.7 857.1,460.3 857.4,458.8 857.8,457.4 858.2,455.9 858.6,454.5 858.9,453.0 859.3,451.6 859.7,450.1 860.1,448.7 860.6,447.2 861.0,445.8 861.4,444.3 861.8,442.9 862.3,441.5 862.7,440.0 863.1,438.6 863.6,437.2 864.0,435.7 864.5,434.3 864.9,432.9 865.4,431.4 865.8,430.0 866.3,428.6 866.8,427.2 867.2,425.7 867.7,424.3 868.2,422.9 868.6,421.5 869.1,420.0 869.6,418.6 870.0,417.2 870.5,415.8 871.0,414.3 871.4,412.9 871.9,411.5 872.3,410.0 872.8,408.6 873.2,407.2 873.6,405.7 874.0,404.3 874.5,402.9 874.9,401.4 875.3,400.0 875.7,398.5 876.2,397.1 876.6,395.7 877.0,394.2 877.5,392.8 877.9,391.4 878.4,390.0 878.9,388.5 879.4,387.1 879.9,385.7 880.4,384.3 881.0,382.9 881.5,381.5 882.1,380.1 882.6,378.7 883.2,377.4 883.8,376.0 884.4,374.6 885.0,373.2 885.6,371.9 886.2,370.5 886.9,369.1 887.5,367.8 888.1,366.4 888.8,365.1 889.4,363.7 890.1,362.4 890.8,361.0 891.5,359.7 892.2,358.4 892.9,357.0 893.6,355.7 894.3,354.4 895.0,353.1 895.7,351.8 896.5,350.5 897.2,349.2 898.0,347.9 898.8,346.6 899.5,345.3 900.3,344.1 901.1,342.9 901.9,341.8 902.7,340.8 903.6,339.9 904.4,339.1 905.3,338.6 906.2,338.3 907.1,338.2 908.0,338.4 908.9,338.9 909.7,339.5 910.6,340.4 911.4,341.4 912.1,342.5 912.9,343.7 913.6,345.0 914.3,346.2 915.0,347.6 915.6,348.9 916.2,350.3 916.8,351.6 917.4,353.0 917.9,354.4 918.4,355.8 918.9,357.2 919.4,358.7 919.9,360.1 920.3,361.5 920.7,362.9 921.2,364.4 921.6,365.8 922.0,367.3 922.5,368.7 922.9,370.1 923.4,371.5 923.8,373.0 924.3,374.4 924.7,375.8 925.2,377.3 925.7,378.7 926.2,380.1 926.7,381.5 927.2,382.9 927.7,384.3 928.2,385.7 928.8,387.1 929.3,388.5 929.8,389.9 930.4,391.3 930.9,392.7 931.5,394.1 932.1,395.5 932.7,396.9 933.2,398.3 933.8,399.6 934.4,401.0 935.0,402.4 935.5,403.8 936.1,405.2 936.7,406.6 937.2,408.0 937.7,409.4 938.3,410.8 938.8,412.2 939.3,413.6 939.8,415.0 940.3,416.4 940.7,417.9 941.2,419.3 941.7,420.7 942.2,422.1 942.6,423.6 943.1,425.0 943.5,426.4 944.0,427.8 944.5,429.3 944.9,430.7 945.3,432.1 945.8,433.6 946.2,435.0 946.7,436.4 947.1,437.9 947.5,439.3 948.0,440.7 948.4,442.2 948.8,443.6 949.3,445.1 949.7,446.5 950.1,447.9 950.6,449.4 951.0,450.8 951.4,452.2 951.8,453.7 952.3,455.1 952.7,456.6 953.1,458.0 953.5,459.4 953.9,460.9 954.4,462.3 954.8,463.8 955.2,465.2 955.6,466.6 956.1,468.1 956.5,469.5 956.9,470.9 957.4,472.4 957.8,473.8 958.3,475.2 958.7,476.7 959.2,478.1 959.7,479.5 960.1,480.9 960.6,482.4 961.1,483.8 961.6,485.2 962.1,486.6 962.6,488.0 963.1,489.4 963.6,490.8 964.2,492.2 964.7,493.6 965.3,495.0 965.8,496.4 966.4,497.8 967.0,499.2 967.6,500.5 968.2,501.9 968.9,503.3 969.5,504.6 970.2,506.0 970.8,507.3 971.5,508.6 972.2,510.0 972.9,511.3 973.6,512.6 974.3,514.0 975.0,515.3 975.7,516.6 976.5,517.9 977.2,519.2 977.9,520.5 978.7,521.8 979.5,523.1 980.2,524.4 981.0,525.7 981.8,527.0 982.5,528.3 983.3,529.5 984.1,530.8 984.8,532.1 985.6,533.4 986.4,534.7 987.1,536.0 987.9,537.3 988.6,538.6 989.3,539.9 990.0,541.2 990.8,542.6 991.5,543.9 992.2,545.2 992.9,546.5 993.6,547.8 994.4,549.1 995.1,550.4 995.9,551.7 996.7,553.0 997.5,554.3 998.3,555.5 999.1,556.8 999.9,558.0 1000.7,559.3 1001.6,560.5 1002.5,561.7 1003.4,562.9 1004.3,564.1 1005.2,565.3 1006.1,566.5 1007.0,567.6 1008.0,568.8 1009.0,569.9 1010.0,571.1 1011.0,572.2 1012.0,573.3 1013.0,574.4 1014.0,575.5 1015.1,576.5 1016.2,577.5 1017.4,578.4 1018.7,579.2 1020.0,579.9 1021.4,580.6 1022.7,581.2 1024.1,581.8 1025.5,582.4 1026.9,582.9 1028.3,583.4 1029.7,584.0 1031.1,584.5 1032.5,585.0 1033.9,585.4 1035.4,585.9 1036.8,586.4 1038.2,586.8 1039.6,587.3 1041.1,587.8 1042.5,588.2 1043.9,588.7 1045.4,589.1 1046.8,589.6 1048.2,590.2 1049.5,590.8 1050.8,591.6 1052.0,592.5 1053.1,593.5 1054.2,594.5 1055.3,595.6 1056.3,596.6 1057.5,597.6 1058.7,598.5 1059.9,599.3 1061.1,600.2 1062.4,601.0 1063.7,601.7 1065.1,602.2 1066.6,602.5 1068.1,602.7 1069.5,602.9 1071.0,603.1 1072.5,603.2 1074.0,603.3 1075.5,603.4 1077.0,603.4 1078.5,603.5 1080.0,603.5 1081.5,603.5 1083.0,603.5 1084.5,603.5 1086.0,603.6 1087.5,603.6 1089.0,603.6 1090.5,603.6 1092.0,603.6 1093.5,603.6 1095.0,603.6 1096.5,603.6 1098.0,603.7 1099.5,603.7 1101.0,603.7 1102.5,603.7 1104.0,603.7 1105.5,603.7 1107.0,603.7 1108.5,603.7 1110.0,603.7 1111.5,603.8 1113.0,603.8 1114.5,603.8 1116.0,603.8 1117.5,603.8 1119.0,603.8 1120.5,603.8 1122.0,603.8 1123.5,603.8 1125.0,603.8 1126.5,603.8 1128.0,603.8 1129.5,603.9 1131.0,603.9 1132.5,603.9 1134.0,603.9 1135.5,603.9 1137.0,603.9 1138.5,603.9 1140.0,603.9 1141.5,603.9 1143.0,603.9 1144.5,603.9 1146.0,603.9 1147.5,603.9 1149.0,603.9 1150.5,603.9 1152.0,603.9 1153.5,603.9 1155.0,603.9 1156.5,603.9 1158.0,604.0 1159.5,604.0 1161.0,604.0 1162.5,604.0 1164.0,604.0 1165.5,604.0 1167.0,604.0 1168.5,604.0 1170.0,604.0 1171.5,604.0 1173.0,604.0 1174.5,604.0 1176.0,604.0 1177.5,604.0 1179.0,604.0 1180.5,604.0 1182.0,604.0 1183.5,604.0 1185.0,604.0 1186.5,604.0 1188.0,604.0 1189.5,604.0 1191.0,604.0 1192.5,604.0 1194.0,604.0 1195.5,604.0 1197.0,604.0 1198.5,604.0 1200.0,604.0 1201.3,604.0 1201.9,604.0" fill="none" stroke="#9ACD10" stroke-width="6" stroke-linejoin="round" stroke-linecap="butt"/>
<path d="M615.6,594.8 616.6,594.8 618.0,594.8 619.5,594.8 621.0,594.8 622.5,594.8 624.0,594.8 625.5,594.8 627.0,594.8 628.5,594.8 630.0,594.8 631.5,594.8 633.0,594.8 634.5,594.8 636.0,594.8 637.5,594.8 639.0,594.8 640.5,594.8 642.0,594.8 643.5,594.8 645.0,594.8 646.5,594.8 648.0,594.8 649.5,594.8 651.0,594.8 652.5,594.8 654.0,594.8 655.5,594.8 657.0,594.8 658.5,594.8 660.0,594.8 661.5,594.8 663.0,594.8 664.5,594.8 666.0,594.8 667.5,594.8 669.0,594.8 670.5,594.8 672.0,594.8 673.5,594.8 675.0,594.8 676.5,594.8 678.0,594.8 679.5,594.8 681.0,594.8 682.5,594.8 684.0,594.8 685.5,594.8 687.0,594.8 688.5,594.8 690.0,594.8 691.5,594.8 693.0,594.8 694.5,594.8 696.0,594.8 697.5,594.8 699.0,594.8 700.5,594.8 702.0,594.8 703.5,594.8 705.0,594.8 706.5,594.8 708.0,594.8 709.5,594.7 711.0,594.7 712.5,594.7 714.0,594.7 715.5,594.7 717.0,594.6 718.5,594.6 720.0,594.6 721.5,594.5 723.0,594.5 724.5,594.5 726.0,594.4 727.5,594.4 729.0,594.3 730.5,594.3 732.0,594.2 733.5,594.2 735.0,594.1 736.5,594.1 738.0,594.0 739.5,594.0 741.0,593.9 742.5,593.8 744.0,593.8 745.5,593.7 747.0,593.6 748.5,593.6 750.0,593.5 751.5,593.4 753.0,593.3 754.5,593.2 756.0,593.1 757.5,592.9 758.9,592.8 760.4,592.6 761.9,592.4 763.4,592.2 764.9,592.0 766.4,591.8 767.9,591.6 769.4,591.4 770.8,591.1 772.3,590.9 773.8,590.6 775.3,590.4 776.7,590.1 778.2,589.8 779.7,589.4 781.1,589.1 782.6,588.8 784.1,588.5 785.5,588.1 787.0,587.8 788.5,587.5 789.9,587.2 791.4,586.8 792.8,586.5 794.3,586.1 795.8,585.8 797.2,585.4 798.6,584.9 800.1,584.5 801.5,584.0 802.9,583.4 804.3,582.9 805.6,582.3 807.0,581.7 808.4,581.2 809.8,580.6 811.2,580.1 812.6,579.5 814.0,578.9 815.4,578.3 816.7,577.7 818.1,577.0 819.4,576.3 820.7,575.6 822.0,574.9 823.3,574.0 824.5,573.2 825.7,572.2 826.8,571.3 828.0,570.3 829.1,569.4 830.2,568.4 831.4,567.4 832.5,566.4 833.6,565.3 834.6,564.3 835.6,563.2 836.6,562.1 837.5,560.9 838.3,559.7 839.1,558.4 839.9,557.2 840.6,555.9 841.3,554.6 842.0,553.2 842.6,551.9 843.2,550.5 843.8,549.1 844.3,547.7 844.9,546.4 845.5,545.0 846.0,543.6 846.6,542.2 847.1,540.8 847.7,539.4 848.2,538.0 848.8,536.6 849.4,535.2 850.0,533.8 850.6,532.5 851.2,531.1 851.8,529.7 852.4,528.4 853.0,527.0 853.7,525.6 854.3,524.3 854.9,522.9 855.6,521.6 856.2,520.2 856.9,518.9 857.5,517.5 858.1,516.1 858.7,514.8 859.4,513.4 860.0,512.0 860.6,510.7 861.2,509.3 861.7,507.9 862.3,506.5 863.0,505.2 863.6,503.8 864.2,502.4 864.8,501.1 865.5,499.7 866.2,498.4 866.9,497.1 867.6,495.8 868.4,494.5 869.2,493.2 870.0,492.0 870.8,490.7 871.6,489.5 872.5,488.2 873.4,487.0 874.3,485.8 875.2,484.6 876.1,483.5 877.0,482.3 878.0,481.2 879.0,480.0 880.0,478.9 881.0,477.8 882.0,476.7 883.0,475.6 884.1,474.5 885.1,473.5 886.2,472.4 887.3,471.4 888.4,470.4 889.6,469.5 890.7,468.6 891.9,467.7 893.2,466.9 894.4,466.1 895.7,465.4 897.0,464.7 898.4,464.2 899.7,463.7 901.1,463.3 902.6,463.0 904.0,462.8 905.4,462.6 906.9,462.6 908.3,462.6 909.8,462.8 911.2,463.0 912.6,463.3 914.1,463.7 915.4,464.2 916.8,464.8 918.1,465.4 919.4,466.1 920.7,466.8 921.9,467.7 923.1,468.5 924.2,469.5 925.4,470.4 926.4,471.4 927.4,472.5 928.4,473.6 929.3,474.8 930.2,476.0 931.0,477.2 931.8,478.5 932.5,479.7 933.2,481.1 933.9,482.4 934.5,483.8 935.1,485.1 935.7,486.5 936.3,487.9 936.9,489.3 937.5,490.6 938.0,492.0 938.6,493.4 939.2,494.8 939.7,496.2 940.3,497.6 940.9,499.0 941.4,500.4 942.0,501.8 942.5,503.2 943.1,504.5 943.7,505.9 944.2,507.3 944.8,508.7 945.3,510.1 945.9,511.5 946.5,512.9 947.1,514.3 947.6,515.6 948.2,517.0 948.8,518.4 949.4,519.8 950.0,521.2 950.6,522.5 951.3,523.9 951.9,525.3 952.5,526.6 953.1,528.0 953.8,529.3 954.5,530.7 955.2,532.0 955.9,533.3 956.6,534.6 957.4,535.9 958.2,537.1 959.0,538.4 959.9,539.6 960.7,540.8 961.7,542.0 962.6,543.1 963.6,544.3 964.5,545.4 965.5,546.6 966.4,547.7 967.3,548.9 968.2,550.1 969.1,551.3 969.9,552.5 970.8,553.7 971.6,555.0 972.5,556.2 973.4,557.4 974.3,558.6 975.2,559.7 976.2,560.8 977.2,561.9 978.2,563.0 979.3,564.0 980.4,565.0 981.5,566.0 982.7,567.0 983.8,567.9 985.0,568.9 986.1,569.8 987.3,570.7 988.5,571.7 989.7,572.5 990.9,573.4 992.2,574.3 993.4,575.1 994.6,576.0 995.9,576.8 997.2,577.5 998.5,578.3 999.8,579.0 1001.1,579.7 1002.5,580.4 1003.8,581.0 1005.2,581.6 1006.6,582.2 1008.0,582.8 1009.4,583.4 1010.8,583.9 1012.2,584.4 1013.6,584.9 1015.0,585.4 1016.4,585.8 1017.9,586.3 1019.3,586.7 1020.8,587.1 1022.2,587.4 1023.7,587.8 1025.1,588.1 1026.6,588.4 1028.1,588.7 1029.6,589.0 1031.0,589.2 1032.5,589.5 1034.0,589.7 1035.5,589.9 1037.0,590.1 1038.5,590.3 1039.9,590.5 1041.4,590.6 1042.9,590.8 1044.4,590.9 1045.9,591.1 1047.4,591.2 1048.9,591.3 1050.4,591.4 1051.9,591.5 1053.4,591.6 1054.9,591.7 1056.4,591.8 1057.9,591.9 1059.4,591.9 1060.9,592.0 1062.4,592.0 1063.9,592.1 1065.4,592.2 1066.9,592.3 1068.4,592.4 1069.9,592.5 1071.4,592.7 1072.8,593.0 1074.3,593.3 1075.7,593.7 1077.2,594.1 1078.6,594.6 1080.0,595.1 1081.4,595.6 1082.8,596.2 1084.2,596.7 1085.6,597.3 1086.9,598.0 1088.2,598.7 1089.5,599.5 1090.8,600.2 1092.1,600.9 1093.5,601.5 1094.9,601.9 1096.4,602.2 1097.9,602.4 1099.4,602.6 1100.9,602.7 1102.4,602.9 1103.9,603.0 1105.4,603.1 1106.9,603.1 1108.4,603.2 1109.9,603.2 1111.4,603.2 1112.9,603.2 1114.4,603.2 1115.9,603.2 1117.4,603.2 1118.9,603.2 1120.4,603.2 1121.9,603.2 1123.4,603.2 1124.9,603.2 1126.4,603.2 1127.9,603.2 1129.4,603.2 1130.9,603.2 1132.4,603.2 1133.9,603.2 1135.4,603.2 1136.9,603.2 1138.4,603.2 1139.9,603.2 1141.4,603.2 1142.9,603.2 1144.4,603.2 1145.9,603.2 1147.4,603.2 1148.9,603.2 1150.4,603.2 1151.9,603.2 1153.4,603.2 1154.9,603.2 1156.4,603.2 1157.9,603.2 1159.4,603.2 1160.9,603.2 1162.4,603.2 1163.9,603.2 1165.4,603.2 1166.9,603.2 1168.4,603.2 1169.9,603.2 1171.4,603.2 1172.9,603.2 1174.4,603.2 1175.9,603.2 1177.4,603.2 1178.9,603.2 1180.4,603.2 1181.9,603.2 1183.4,603.2 1184.9,603.2 1186.4,603.2 1187.9,603.2 1189.4,603.2 1190.9,603.2 1192.4,603.2 1193.9,603.2 1195.4,603.2 1196.9,603.2 1198.4,603.2 1199.8,603.2 1201.2,603.2 1202.3,603.2" fill="none" stroke="#666699" stroke-width="6" stroke-linejoin="round" stroke-linecap="butt"/>
<path d="M615.6,599.3 616.6,599.3 618.0,599.3 619.5,599.3 621.0,599.3 622.5,599.3 624.0,599.3 625.5,599.3 627.0,599.3 628.5,599.3 630.0,599.3 631.5,599.3 633.0,599.3 634.5,599.3 636.0,599.3 637.5,599.3 639.0,599.3 640.5,599.3 642.0,599.3 643.5,599.3 645.0,599.3 646.5,599.3 648.0,599.3 649.5,599.3 651.0,599.3 652.5,599.3 654.0,599.3 655.5,599.3 657.0,599.3 658.5,599.3 660.0,599.3 661.5,599.3 663.0,599.3 664.5,599.3 666.0,599.3 667.5,599.3 669.0,599.3 670.5,599.3 672.0,599.3 673.5,599.3 675.0,599.3 676.5,599.3 678.0,599.3 679.5,599.3 681.0,599.3 682.5,599.3 684.0,599.3 685.5,599.3 687.0,599.3 688.5,599.3 690.0,599.3 691.5,599.3 693.0,599.3 694.5,599.3 696.0,599.3 697.5,599.3 699.0,599.3 700.5,599.3 702.0,599.3 703.5,599.3 705.0,599.3 706.5,599.3 708.0,599.3 709.5,599.3 711.0,599.2 712.5,599.2 714.0,599.2 715.5,599.2 717.0,599.2 718.5,599.2 720.0,599.1 721.5,599.1 723.0,599.1 724.5,599.1 726.0,599.0 727.5,599.0 729.0,599.0 730.5,599.0 732.0,598.9 733.5,598.9 735.0,598.9 736.5,598.9 738.0,598.8 739.5,598.8 741.0,598.8 742.5,598.8 744.0,598.7 745.5,598.7 747.0,598.7 748.5,598.6 750.0,598.6 751.5,598.6 753.0,598.6 754.5,598.5 756.0,598.5 757.5,598.4 759.0,598.4 760.5,598.4 762.0,598.3 763.5,598.3 765.0,598.2 766.5,598.1 768.0,598.1 769.5,598.0 771.0,597.9 772.5,597.8 774.0,597.7 775.5,597.6 777.0,597.4 778.5,597.3 779.9,597.1 781.4,596.9 782.9,596.7 784.4,596.5 785.9,596.2 787.4,596.0 788.8,595.7 790.3,595.4 791.8,595.1 793.2,594.7 794.7,594.3 796.1,593.9 797.5,593.4 798.9,592.9 800.3,592.4 801.8,591.9 803.2,591.4 804.6,590.9 806.0,590.4 807.4,589.9 808.8,589.3 810.2,588.8 811.6,588.2 813.0,587.6 814.3,587.0 815.6,586.3 816.9,585.5 818.2,584.7 819.5,583.9 820.8,583.1 822.1,582.4 823.4,581.8 824.8,581.2 826.2,580.6 827.6,580.1 829.0,579.6 830.4,579.0 831.8,578.5 833.2,577.9 834.5,577.3 835.9,576.6 837.2,575.9 838.5,575.2 839.9,574.5 841.2,573.8 842.5,573.0 843.8,572.3 845.1,571.6 846.4,570.9 847.8,570.2 849.1,569.5 850.4,568.8 851.7,568.1 853.1,567.4 854.4,566.7 855.7,566.0 857.0,565.3 858.4,564.6 859.7,563.9 861.0,563.2 862.4,562.5 863.7,561.8 865.0,561.0 866.3,560.3 867.6,559.5 868.8,558.7 870.1,558.0 871.4,557.1 872.6,556.3 873.8,555.5 875.1,554.6 876.3,553.7 877.5,552.9 878.7,552.0 879.9,551.1 881.2,550.3 882.4,549.4 883.7,548.6 884.9,547.9 886.2,547.1 887.5,546.5 888.9,545.9 890.2,545.4 891.6,544.9 893.0,544.6 894.5,544.3 895.9,544.1 897.4,543.9 898.9,543.8 900.4,543.7 901.9,543.6 903.3,543.6 904.8,543.5 906.3,543.5 907.8,543.5 909.3,543.5 910.8,543.5 912.3,543.5 913.8,543.5 915.3,543.5 916.8,543.6 918.3,543.6 919.8,543.7 921.3,543.8 922.8,543.9 924.3,544.1 925.7,544.3 927.2,544.6 928.6,544.9 930.0,545.3 931.4,545.8 932.8,546.4 934.1,546.9 935.5,547.6 936.8,548.3 938.1,549.0 939.4,549.8 940.6,550.6 941.8,551.4 943.0,552.3 944.2,553.2 945.4,554.1 946.6,555.1 947.7,556.1 948.8,557.1 949.9,558.1 951.0,559.1 952.1,560.1 953.2,561.2 954.2,562.2 955.3,563.3 956.4,564.3 957.4,565.4 958.5,566.4 959.6,567.5 960.6,568.5 961.7,569.6 962.8,570.6 964.0,571.5 965.2,572.4 966.4,573.2 967.7,574.0 969.0,574.7 970.3,575.4 971.7,576.1 973.1,576.7 974.4,577.3 975.8,577.9 977.2,578.6 978.5,579.2 979.9,579.8 981.2,580.5 982.5,581.2 983.9,581.9 985.2,582.6 986.5,583.3 987.8,584.0 989.2,584.7 990.5,585.4 991.9,586.0 993.2,586.7 994.6,587.2 996.0,587.8 997.4,588.4 998.8,588.9 1000.2,589.5 1001.6,590.0 1003.0,590.5 1004.4,590.9 1005.9,591.4 1007.3,591.8 1008.7,592.2 1010.2,592.6 1011.6,593.0 1013.1,593.3 1014.6,593.7 1016.0,594.0 1017.5,594.3 1019.0,594.6 1020.4,594.9 1021.9,595.1 1023.4,595.3 1024.9,595.5 1026.4,595.7 1027.9,595.8 1029.4,596.0 1030.9,596.1 1032.4,596.3 1033.9,596.4 1035.3,596.5 1036.8,596.6 1038.3,596.7 1039.8,596.8 1041.3,596.9 1042.8,596.9 1044.3,597.0 1045.8,597.0 1047.3,597.0 1048.8,597.1 1050.3,597.1 1051.8,597.1 1053.3,597.2 1054.8,597.2 1056.3,597.2 1057.8,597.2 1059.3,597.2 1060.8,597.3 1062.3,597.3 1063.8,597.3 1065.3,597.3 1066.8,597.3 1068.3,597.3 1069.8,597.3 1071.3,597.3 1072.8,597.3 1074.3,597.3 1075.8,597.3 1077.3,597.3 1078.8,597.3 1080.3,597.3 1081.8,597.3 1083.3,597.3 1084.8,597.3 1086.3,597.3 1087.8,597.3 1089.3,597.3 1090.8,597.3 1092.3,597.3 1093.8,597.3 1095.3,597.3 1096.8,597.3 1098.3,597.3 1099.8,597.3 1101.3,597.3 1102.8,597.3 1104.3,597.3 1105.8,597.3 1107.3,597.3 1108.8,597.3 1110.3,597.4 1111.8,597.6 1113.2,598.0 1114.6,598.5 1116.0,599.1 1117.3,599.8 1118.6,600.6 1119.8,601.5 1121.0,602.3 1122.3,603.0 1123.7,603.2 1125.0,602.8 1126.3,602.1 1127.5,601.2 1128.7,600.4 1130.0,599.6 1131.3,598.9 1132.7,598.3 1134.1,597.7 1135.5,597.3 1137.0,597.1 1138.5,596.9 1140.0,596.9 1141.5,596.8 1143.0,596.8 1144.5,596.7 1146.0,596.7 1147.5,596.7 1149.0,596.6 1150.5,596.6 1152.0,596.6 1153.5,596.6 1155.0,596.5 1156.5,596.5 1158.0,596.5 1159.5,596.5 1161.0,596.5 1162.5,596.5 1164.0,596.5 1165.5,596.5 1167.0,596.4 1168.5,596.4 1170.0,596.4 1171.5,596.4 1173.0,596.4 1174.5,596.4 1176.0,596.4 1177.5,596.4 1179.0,596.4 1180.5,596.4 1182.0,596.4 1183.5,596.3 1185.0,596.3 1186.5,596.3 1188.0,596.3 1189.5,596.3 1191.0,596.3 1192.5,596.3 1194.0,596.3 1195.5,596.3 1197.0,596.3 1198.5,596.3 1200.0,596.3 1201.4,596.3 1202.4,596.3" fill="none" stroke="#5CCDCD" stroke-width="6" stroke-linejoin="round" stroke-linecap="butt"/>
<text transform="translate(535.5,622.3) scale(1.1,1)" font-family="Liberation Serif, Times New Roman, serif" font-size="42" text-anchor="end">0.00</text>
<text transform="translate(535.5,538.5) scale(1.1,1)" font-family="Liberation Serif, Times New Roman, serif" font-size="42" text-anchor="end">2.00</text>
<text transform="translate(535.5,454.7) scale(1.1,1)" font-family="Liberation Serif, Times New Roman, serif" font-size="42" text-anchor="end">4.00</text>
<text transform="translate(535.5,370.9) scale(1.1,1)" font-family="Liberation Serif, Times New Roman, serif" font-size="42" text-anchor="end">6.00</text>
<text transform="translate(535.5,287.1) scale(1.1,1)" font-family="Liberation Serif, Times New Roman, serif" font-size="42" text-anchor="end">8.00</text>
<text transform="translate(535.5,203.3) scale(1.1,1)" font-family="Liberation Serif, Times New Roman, serif" font-size="42" text-anchor="end">10.00</text>
<text transform="translate(535.5,119.5) scale(1.1,1)" font-family="Liberation Serif, Times New Roman, serif" font-size="42" text-anchor="end">12.00</text>
<text transform="translate(574.5,674) scale(1.11,1)" font-family="Liberation Serif, Times New Roman, serif" font-size="42" text-anchor="middle">-0.9</text>
<text transform="translate(754.0,674) scale(1.11,1)" font-family="Liberation Serif, Times New Roman, serif" font-size="42" text-anchor="middle">-0.7</text>
<text transform="translate(936.8,674) scale(1.11,1)" font-family="Liberation Serif, Times New Roman, serif" font-size="42" text-anchor="middle">-0.5</text>
<text transform="translate(1116.5,674) scale(1.11,1)" font-family="Liberation Serif, Times New Roman, serif" font-size="42" text-anchor="middle">-0.3</text>
<text transform="translate(1299.5,674) scale(1.11,1)" font-family="Liberation Serif, Times New Roman, serif" font-size="42" text-anchor="middle">-0.1</text>
<text x="891" y="717.2" font-family="Liberation Serif, Times New Roman, serif" font-weight="bold" font-size="43" text-anchor="middle">V</text>
<text transform="translate(428.5,462) rotate(-90)" x="0" y="0" font-family="Liberation Serif, Times New Roman, serif" font-weight="bold" font-size="47" textLength="255" lengthAdjust="spacingAndGlyphs">Current (µA)</text>
<text transform="translate(1026.5,253.4) scale(1.08,1)" font-family="Liberation Serif, Times New Roman, serif" font-size="42">10 µM</text>
<line x1="1044" y1="259" x2="1044" y2="461" stroke="#000" stroke-width="3.6"/>
<polyline points="1022,428 1044,461 1066,428" fill="none" stroke="#222" stroke-width="3.4"/>
<text transform="translate(1031,497.2) scale(1.07,1)" font-family="Liberation Serif, Times New Roman, serif" font-size="42">1 x 10<tspan font-size="26" dy="-17" fill="#555">-7</tspan><tspan dy="17"> µM</tspan></text>
</svg>
</body></html>
